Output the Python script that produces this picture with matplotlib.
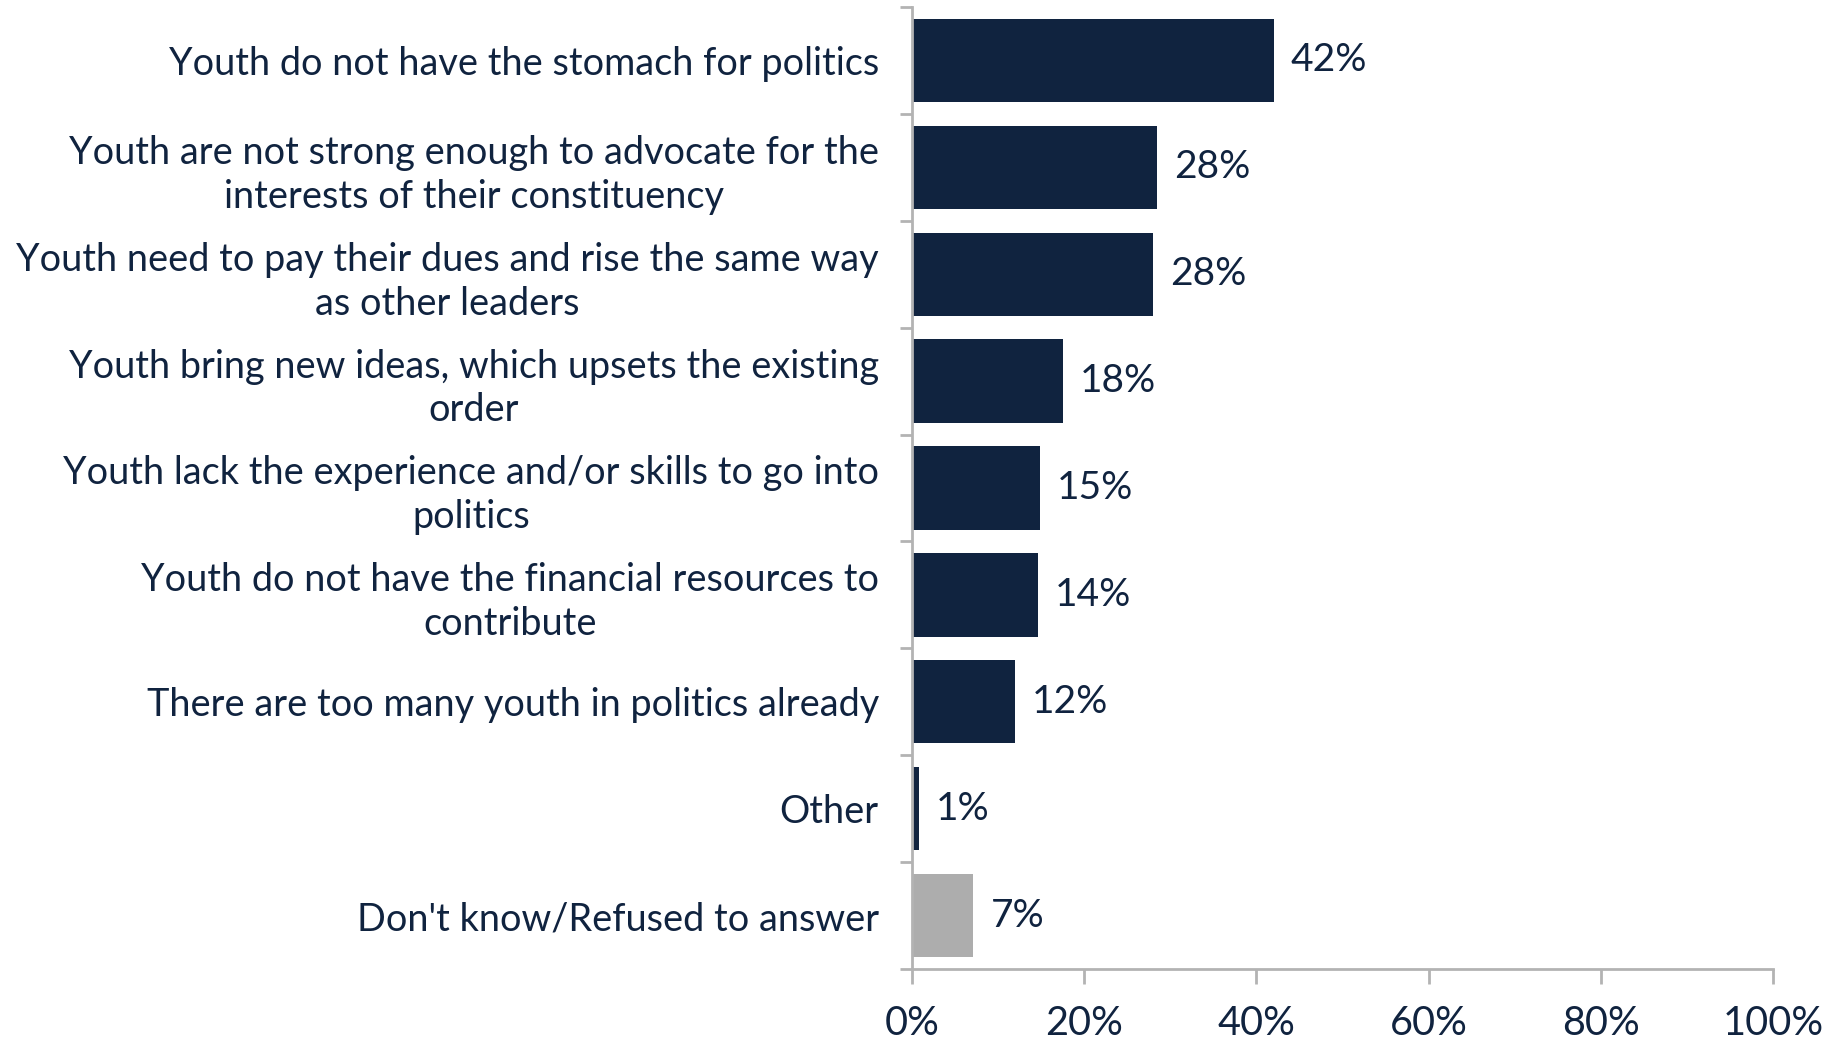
import matplotlib.pyplot as plt
import numpy as np

# respostas (de cima para baixo)
categories = [
    "Youth do not have the stomach for politics",
    "Youth are not strong enough to advocate for the\ninterests of their constituency",
    "Youth need to pay their dues and rise the same way\nas other leaders",
    "Youth bring new ideas, which upsets the existing\norder",
    "Youth lack the experience and/or skills to go into\npolitics",
    "Youth do not have the financial resources to\ncontribute",
    "There are too many youth in politics already",
    "Other",
    "Don't know/Refused to answer",
]
values = [42.0, 28.4, 28.0, 17.5, 14.8, 14.6, 11.9, 0.8, 7.1]
labels = ["42%", "28%", "28%", "18%", "15%", "14%", "12%", "1%", "7%"]
x_ticks = [0, 20, 40, 60, 80, 100]
x_ticklabels = ["0%", "20%", "40%", "60%", "80%", "100%"]

NAVY = "#10233f"
GREY_BAR = "#adadad"
AXIS_GREY = "#b3b3b3"
FONT = ["Lato", "DejaVu Sans"]

plt.rcParams["font.family"] = FONT

fig = plt.figure(figsize=(18.39, 10.43), dpi=100)
ax = fig.add_axes([0.496, 0.071, 0.468, 0.9223])

n = len(categories)
pos = np.arange(n)
colors = [NAVY] * (n - 1) + [GREY_BAR]
ax.barh(pos, values, height=0.78, color=colors)

for p, v, lab in zip(pos, values, labels):
    ax.text(v + 2.0, p, lab, va="center", ha="left", fontsize=28, color=NAVY)

ax.set_xlim(0, 100)
ax.set_ylim(n - 0.5, -0.5)

ax.set_yticks(pos)
ax.set_yticklabels(categories, fontsize=27.3, color=NAVY, linespacing=1.27)
for t in ax.get_yticklabels():
    t.set_multialignment("center")
ax.set_yticks(np.arange(-0.5, n, 1.0), minor=True)
ax.tick_params(axis="y", which="major", length=0, pad=24)
ax.tick_params(axis="y", which="minor", length=9, width=2, color=AXIS_GREY, direction="out")

ax.set_xticks(x_ticks)
ax.set_xticklabels(x_ticklabels, fontsize=28.5, color=NAVY)
ax.tick_params(axis="x", length=11, width=2, color=AXIS_GREY, direction="out", pad=15)

for side in ["top", "right"]:
    ax.spines[side].set_visible(False)
for side in ["left", "bottom"]:
    ax.spines[side].set_color(AXIS_GREY)
    ax.spines[side].set_linewidth(2)

fig.savefig("out.png", dpi=100)
